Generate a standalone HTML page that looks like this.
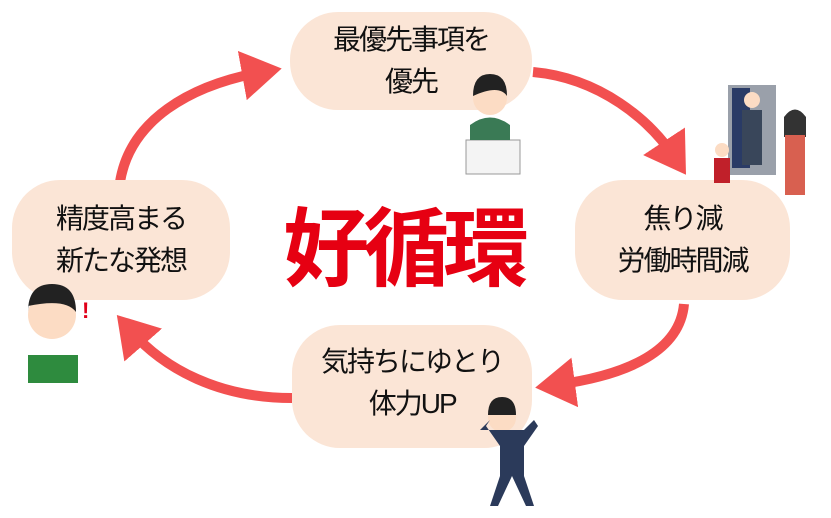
<!DOCTYPE html>
<html><head><meta charset="utf-8"><style>
body{margin:0;width:831px;height:518px;background:#fff;overflow:hidden;position:relative;font-family:"Liberation Sans","Noto Sans CJK JP",sans-serif}
.b{position:absolute;background:#fbe5d6;border-radius:48px;display:flex;align-items:center;justify-content:center;text-align:center;font-size:28px;line-height:42px;color:#111;letter-spacing:-2px}
svg{position:absolute;left:0;top:0}
</style></head><body>
<svg width="831" height="518">
<defs><marker id="a" markerWidth="5" markerHeight="5" refX="2" refY="2.5" orient="auto" markerUnits="strokeWidth"><path d="M0,0 L4,2.5 L0,5Z" fill="#f25050"/></marker></defs>
<g fill="none" stroke="#f25050" stroke-width="10">
<path d="M120,182 C130,120 190,85 262,72" marker-end="url(#a)"/>
<path d="M533,72 C600,78 650,120 675,158" marker-end="url(#a)"/>
<path d="M684,304 C680,350 630,375 555,385" marker-end="url(#a)"/>
<path d="M292,398 C220,398 165,370 130,330" marker-end="url(#a)"/>
</g>
</svg>
<div class="b" style="left:290px;top:12px;width:242px;height:98px">最優先事項を<br>優先　　</div>
<div class="b" style="left:12px;top:180px;width:218px;height:120px">精度高まる<br>新たな発想</div>
<div class="b" style="left:575px;top:180px;width:215px;height:120px">焦り減<br>労働時間減</div>
<div class="b" style="left:292px;top:325px;width:240px;height:123px;align-items:flex-start;padding-top:16px;box-sizing:border-box">気持ちにゆとり<br>体力UP　</div>
<div style="position:absolute;left:283px;top:197px;font-size:86px;font-weight:bold;color:#e60012;line-height:106px;letter-spacing:-6px">好循環</div>
<svg width="831" height="518">
<rect x="466" y="140" width="54" height="34" fill="#f4f4f4" stroke="#999"/>
<path d="M470,125 q20,-15 40,0 v15 h-40z" fill="#3a7a55"/>
<circle cx="490" cy="98" r="17" fill="#fcdcc4"/><path d="M473,96 q0,-22 17,-22 q17,0 17,22 q-8,-12 -34,0z" fill="#222"/>
<rect x="728" y="85" width="48" height="90" fill="#9aa0aa"/><rect x="732" y="88" width="18" height="80" fill="#2a3b66"/>
<circle cx="752" cy="100" r="8" fill="#fcdcc4"/><rect x="742" y="110" width="20" height="55" fill="#39465a"/>
<circle cx="795" cy="120" r="9" fill="#fcdcc4"/><path d="M784,117 q11,-15 22,0 v20 h-22z" fill="#333"/><rect x="785" y="135" width="20" height="60" fill="#d86050"/>
<circle cx="722" cy="150" r="7" fill="#fcdcc4"/><rect x="714" y="158" width="16" height="25" fill="#c0202a"/>
<path d="M28,355 h50 v28 h-50z" fill="#2e8b3e"/>
<circle cx="52" cy="315" r="24" fill="#fcdcc4"/><path d="M28,312 q0,-28 24,-28 q24,0 24,28 q-10,-14 -48,-6z" fill="#222"/>
<text x="82" y="318" fill="#e0001a" font-size="22" font-weight="bold">!</text>
<circle cx="502" cy="418" r="14" fill="#fcdcc4"/><path d="M488,415 q0,-18 14,-18 q14,0 14,18z" fill="#222"/>
<path d="M480,430 h44 l10,-10 l4,6 l-14,20 v30 l10,30 h-8 l-14,-30 l-14,30 h-8 l10,-30 v-30 l-14,-20 l4,-6z" fill="#2b3a5a"/>
</svg>
</body></html>
